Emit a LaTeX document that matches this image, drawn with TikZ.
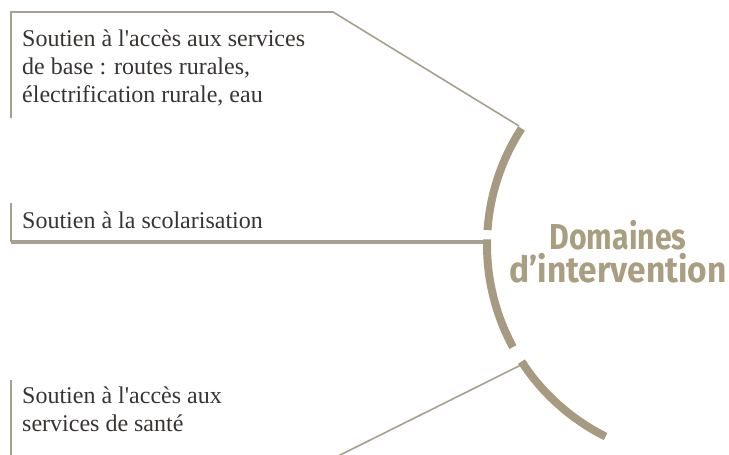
\documentclass[tikz,border=0pt]{standalone}
\usepackage{fontspec}
\setmainfont{Liberation Serif}[Ligatures=TeXOff]
\newfontfamily\domfont{Fira Sans}
\definecolor{linec}{RGB}{168,160,142}
\definecolor{arcc}{RGB}{166,154,128}
\definecolor{domc}{RGB}{170,158,128}
\definecolor{txtc}{RGB}{55,52,50}
\tikzset{
  thinline/.style={draw=linec,line width=1.6pt,line join=miter},
  thickline/.style={draw=linec,line width=4.5pt},
  arcseg/.style={draw=arcc,line width=8pt},
  label/.style={anchor=base west,inner sep=0pt,align=left,text=txtc,
    font=\fontsize{24}{28}\selectfont},
  domlabel/.style={inner sep=0pt,align=center,text=domc,
    font=\domfont\bfseries\fontsize{36}{33}\selectfont}
}
\begin{document}
\begin{tikzpicture}[x=1pt,y=1pt]
\useasboundingbox (0,0) rectangle (729,-455);
\begin{scope}
\clip (0,0) rectangle (729,-455);
% centre of the big arc
\coordinate (c) at (701,-245);
% top box
\coordinate (t1) at (11,-118);
\coordinate (t2) at (11,-12);
\coordinate (t3) at (333,-12);
\coordinate (t4) at (519,-126);
\draw[thinline] (t1) -- (t2) -- (t3) -- (t4);
% middle box
\coordinate (m1) at (11,-203);
\coordinate (m2) at (11,-242);
\coordinate (m3) at (491,-242);
\draw[thinline] (m1) -- (m2);
\draw[thickline] (m2) -- (m3);
% bottom box
\coordinate (b1) at (11,-380);
\coordinate (b2) at (11,-470);
\coordinate (b3) at (310,-470);
\coordinate (b4) at (527,-362);
\draw[thinline] (b1) -- (b2);
\draw[thinline] (b3) -- (b4);
% arc segments
\draw[arcseg] (c) ++(147:214) arc[start angle=147,end angle=176,radius=214];
\draw[arcseg] (c) ++(178.5:214) arc[start angle=178.5,end angle=208.5,radius=214];
\draw[arcseg] (c) ++(213:214) arc[start angle=213,end angle=243.5,radius=214];
\end{scope}
% texts (anchored at the baseline of their last line)
\node[label] (txt1) at (22,-102) {Soutien à l'accès aux services\\de base : routes rurales,\\électrification rurale, eau};
\node[label] (txt2) at (22,-228) {Soutien à la scolarisation};
\node[label] (txt3) at (22,-431) {Soutien à l'accès aux\\services de santé};
\node[domlabel,anchor=base] (dom) at (618,-282) {\scalebox{0.84}[1]{Domaines}\\\scalebox{0.93}[1]{d’intervention}};
\end{tikzpicture}
\end{document}
